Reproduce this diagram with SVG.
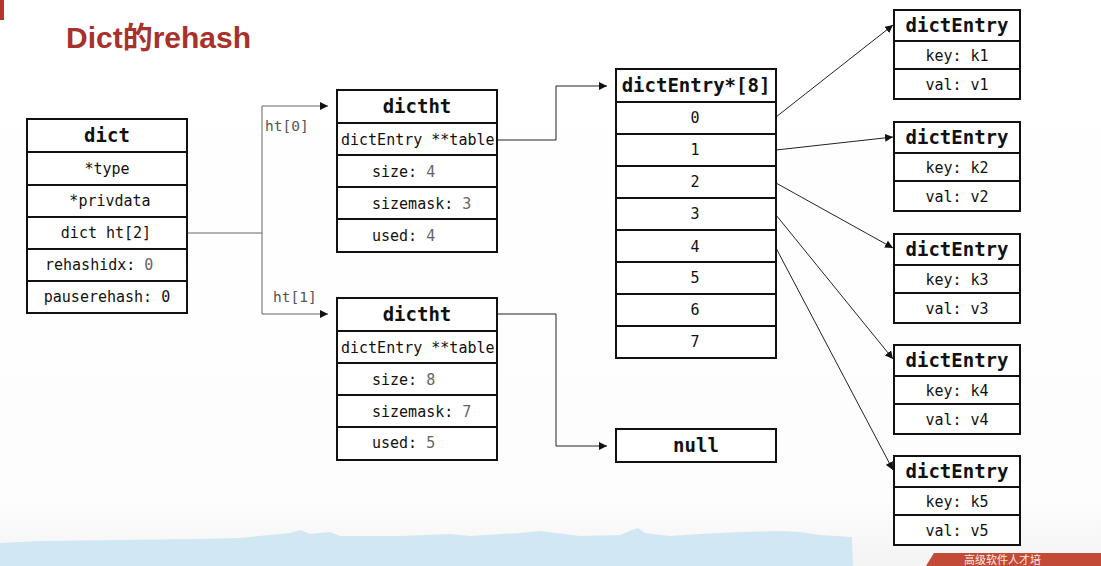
<svg xmlns="http://www.w3.org/2000/svg" width="1101" height="566" viewBox="0 0 1101 566">
<defs>
<marker id="arr" viewBox="0 0 10 10" refX="10" refY="5" markerWidth="8" markerHeight="8" markerUnits="userSpaceOnUse" orient="auto">
<path d="M0,0 L10,5 L0,10 z" fill="#111"/>
</marker>
<linearGradient id="bg" x1="0" y1="0" x2="0" y2="1">
<stop offset="0" stop-color="#ffffff"/>
<stop offset="0.88" stop-color="#fdfdfd"/>
<stop offset="1" stop-color="#f4f4f4"/>
</linearGradient>
</defs>
<style>
.box{fill:#fff;stroke:#111;stroke-width:2}
.sep{stroke:#111;stroke-width:2}
.hd{font-family:"DejaVu Sans Mono",monospace;font-weight:bold;font-size:19px;fill:#111;text-anchor:middle}
.tx{font-family:"DejaVu Sans Mono",monospace;font-size:15px;fill:#111}
.c{text-anchor:middle}
.v{fill:#666}
.lbl{font-family:"DejaVu Sans Mono",monospace;font-size:14.5px;fill:#555}
.con{fill:none;stroke:#222;stroke-width:1}
.conb{fill:none;stroke:#666;stroke-width:1}
</style>
<rect width="1101" height="566" fill="url(#bg)"/>
<rect x="0" y="0" width="4" height="20" fill="#b5372b"/>
<path d="M0,543 L40,541 L120,540 L200,539 L240,538 L290,533 L300,530 L310,534 L330,532 L340,536 L400,536 L450,534 L470,536 L520,533 L540,531 L556,533 L580,536 L620,535 L632,530 L638,528 L645,533 L670,536 L700,534 L740,532 L780,531 L800,532 L820,535 L852,537 L853,566 L0,566 z" fill="#d2e7f4"/>
<path d="M934,553 L1101,553 L1101,566 L926,566 z" fill="#c24a36"/>
<text x="964" y="564" font-family="Noto Sans CJK SC, sans-serif" font-size="11" fill="#fbe9e4">高级软件人才培</text>
<text x="66" y="48" font-family="Liberation Sans, Noto Sans CJK SC, sans-serif" font-weight="bold" font-size="30" fill="#a8312b">Dict的rehash</text>

<g id="connectors">
<path class="conb" d="M187,233 H262 V106 H328" marker-end="url(#arr)"/>
<path class="conb" d="M262,233 V314 H328" marker-end="url(#arr)"/>
<path class="con" d="M497,140 H556 V86 H607" marker-end="url(#arr)"/>
<path class="con" d="M497,314 H556 V446 H607" marker-end="url(#arr)"/>
<line class="con" x1="776" y1="117" x2="893" y2="25" marker-end="url(#arr)"/>
<line class="con" x1="776" y1="150" x2="893" y2="137" marker-end="url(#arr)"/>
<line class="con" x1="776" y1="183" x2="893" y2="248" marker-end="url(#arr)"/>
<line class="con" x1="776" y1="215" x2="893" y2="359" marker-end="url(#arr)"/>
<line class="con" x1="776" y1="248" x2="893" y2="470" marker-end="url(#arr)"/>
<text class="lbl" x="265" y="131">ht[0]</text>
<text class="lbl" x="273" y="302">ht[1]</text>
</g>

<g id="dict">
<rect class="box" x="27" y="119" width="160" height="194"/>
<line class="sep" x1="27" y1="152" x2="187" y2="152"/>
<line class="sep" x1="27" y1="185" x2="187" y2="185"/>
<line class="sep" x1="27" y1="217" x2="187" y2="217"/>
<line class="sep" x1="27" y1="249" x2="187" y2="249"/>
<line class="sep" x1="27" y1="281" x2="187" y2="281"/>
<text class="hd" x="107" y="142">dict</text>
<text class="tx c" x="107" y="174">*type</text>
<text class="tx c" x="110" y="206">*privdata</text>
<text class="tx c" x="106" y="238">dict ht[2]</text>
<text class="tx" x="45" y="270">rehashidx: <tspan class="v">0</tspan></text>
<text class="tx c" x="107" y="302">pauserehash: 0</text>
</g>

<g id="dictht0">
<rect class="box" x="337" y="90" width="160" height="162"/>
<line class="sep" x1="337" y1="123" x2="497" y2="123"/>
<line class="sep" x1="337" y1="155" x2="497" y2="155"/>
<line class="sep" x1="337" y1="187" x2="497" y2="187"/>
<line class="sep" x1="337" y1="219" x2="497" y2="219"/>
<text class="hd" x="417" y="113">dictht</text>
<text class="tx" x="341" y="145">dictEntry **table</text>
<text class="tx" x="372" y="177">size: <tspan class="v">4</tspan></text>
<text class="tx" x="372" y="209">sizemask: <tspan class="v">3</tspan></text>
<text class="tx" x="372" y="241">used:  <tspan class="v">4</tspan></text>
</g>

<g id="dictht1">
<rect class="box" x="337" y="298" width="160" height="162"/>
<line class="sep" x1="337" y1="331" x2="497" y2="331"/>
<line class="sep" x1="337" y1="363" x2="497" y2="363"/>
<line class="sep" x1="337" y1="395" x2="497" y2="395"/>
<line class="sep" x1="337" y1="427" x2="497" y2="427"/>
<text class="hd" x="417" y="321">dictht</text>
<text class="tx" x="341" y="353">dictEntry **table</text>
<text class="tx" x="372" y="385">size: <tspan class="v">8</tspan></text>
<text class="tx" x="372" y="417">sizemask: <tspan class="v">7</tspan></text>
<text class="tx" x="372" y="448">used:  <tspan class="v">5</tspan></text>
</g>

<g id="table">
<rect class="box" x="616" y="69" width="160" height="289"/>
<line class="sep" x1="616" y1="102" x2="776" y2="102"/>
<line class="sep" x1="616" y1="134" x2="776" y2="134"/>
<line class="sep" x1="616" y1="166" x2="776" y2="166"/>
<line class="sep" x1="616" y1="198" x2="776" y2="198"/>
<line class="sep" x1="616" y1="230" x2="776" y2="230"/>
<line class="sep" x1="616" y1="262" x2="776" y2="262"/>
<line class="sep" x1="616" y1="294" x2="776" y2="294"/>
<line class="sep" x1="616" y1="326" x2="776" y2="326"/>
<text class="hd" x="696" y="92">dictEntry*[8]</text>
<text class="tx c" x="695" y="123">0</text>
<text class="tx c" x="695" y="155">1</text>
<text class="tx c" x="695" y="187">2</text>
<text class="tx c" x="695" y="219">3</text>
<text class="tx c" x="695" y="252">4</text>
<text class="tx c" x="695" y="283">5</text>
<text class="tx c" x="695" y="315">6</text>
<text class="tx c" x="695" y="347">7</text>
</g>

<g id="null">
<rect class="box" x="616" y="429" width="160" height="33"/>
<text class="hd" x="696" y="452">null</text>
</g>

<g id="entry1">
<rect class="box" x="894" y="10" width="126" height="89"/>
<line class="sep" x1="894" y1="41" x2="1020" y2="41"/>
<line class="sep" x1="894" y1="69" x2="1020" y2="69"/>
<text class="hd" x="957" y="32">dictEntry</text>
<text class="tx c" x="957" y="61">key: k1</text>
<text class="tx c" x="957" y="90">val: v1</text>
</g>
<g id="entry2">
<rect class="box" x="894" y="122" width="126" height="89"/>
<line class="sep" x1="894" y1="153" x2="1020" y2="153"/>
<line class="sep" x1="894" y1="181" x2="1020" y2="181"/>
<text class="hd" x="957" y="144">dictEntry</text>
<text class="tx c" x="957" y="173">key: k2</text>
<text class="tx c" x="957" y="202">val: v2</text>
</g>
<g id="entry3">
<rect class="box" x="894" y="234" width="126" height="89"/>
<line class="sep" x1="894" y1="265" x2="1020" y2="265"/>
<line class="sep" x1="894" y1="293" x2="1020" y2="293"/>
<text class="hd" x="957" y="256">dictEntry</text>
<text class="tx c" x="957" y="285">key: k3</text>
<text class="tx c" x="957" y="314">val: v3</text>
</g>
<g id="entry4">
<rect class="box" x="894" y="345" width="126" height="89"/>
<line class="sep" x1="894" y1="376" x2="1020" y2="376"/>
<line class="sep" x1="894" y1="404" x2="1020" y2="404"/>
<text class="hd" x="957" y="367">dictEntry</text>
<text class="tx c" x="957" y="396">key: k4</text>
<text class="tx c" x="957" y="425">val: v4</text>
</g>
<g id="entry5">
<rect class="box" x="894" y="456" width="126" height="89"/>
<line class="sep" x1="894" y1="487" x2="1020" y2="487"/>
<line class="sep" x1="894" y1="515" x2="1020" y2="515"/>
<text class="hd" x="957" y="478">dictEntry</text>
<text class="tx c" x="957" y="507">key: k5</text>
<text class="tx c" x="957" y="536">val: v5</text>
</g>
</svg>
